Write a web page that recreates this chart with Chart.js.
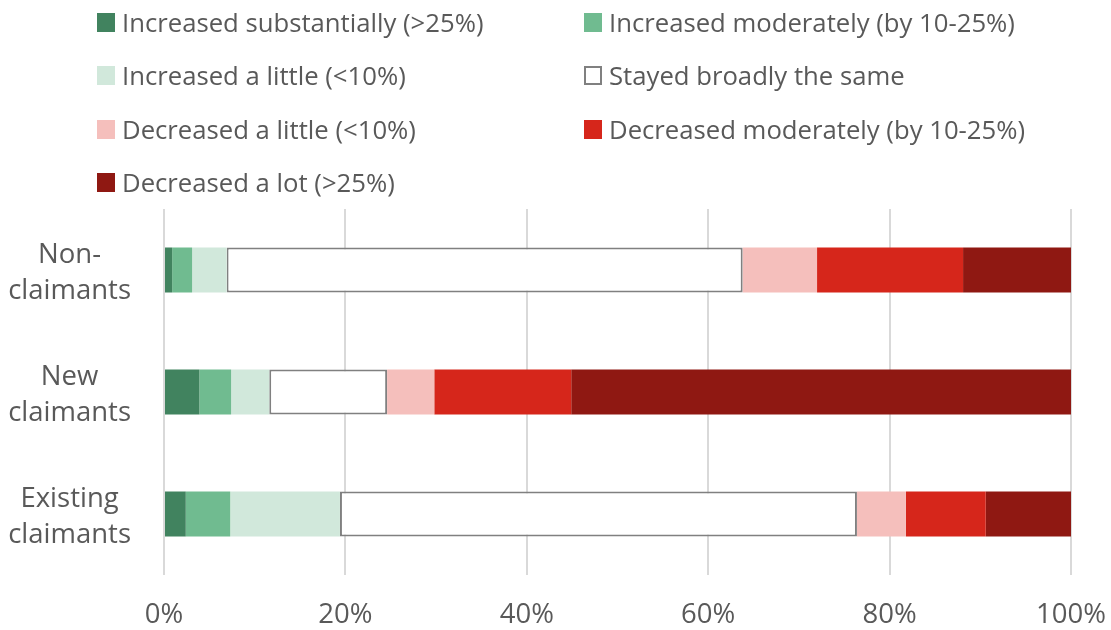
<!DOCTYPE html>
<html>
<head>
<meta charset="utf-8">
<script src="https://cdn.jsdelivr.net/npm/chart.js@4.4.1/dist/chart.umd.min.js"></script>
<style>
  html, body { margin: 0; padding: 0; background: #ffffff; }
  #wrap { position: relative; width: 1111px; height: 630px; }
  #chart { position: absolute; left: 0; top: 0; }
  #legend { position: absolute; left: 0; top: 0; width: 1111px; height: 200px;
            font-family: "Open Sans", sans-serif; font-size: 25.7px; color: #595959; }
  .item { position: absolute; display: flex; align-items: center; height: 30px; white-space: nowrap; }
  .box { width: 18px; height: 19px; margin-right: 7px; box-sizing: border-box; }
</style>
</head>
<body>
<div id="wrap">
  <canvas id="chart" width="1111" height="630"></canvas>
  <div id="legend"></div>
</div>
<script>
// Respondent groups (top to bottom)
const categories = [["Non-", "claimants"], ["New", "claimants"], ["Existing", "claimants"]];

// Share of each group (%) by change in income
const increasedSubstantially = [0.9, 3.9, 2.4];
const increasedModerately    = [2.2, 3.5, 4.9];
const increasedLittle        = [3.8, 4.2, 12.1];
const stayedSame             = [56.9, 13.0, 57.0];
const decreasedLittle        = [8.2, 5.2, 5.4];
const decreasedModerately    = [16.1, 15.1, 8.8];
const decreasedLot           = [11.9, 55.1, 9.4];

const seriesLabels = [
  "Increased substantially (>25%)",
  "Increased moderately (by 10-25%)",
  "Increased a little (<10%)",
  "Stayed broadly the same",
  "Decreased a little (<10%)",
  "Decreased moderately (by 10-25%)",
  "Decreased a lot (>25%)"
];
const xTicks = [0, 20, 40, 60, 80, 100];

const fills   = ["#41835f", "#70bb90", "#d1e8db", "#ffffff", "#f5bfbc", "#d6261b", "#8f1812"];
const borders = [null, null, null, "#808080", null, null, null];
const seriesValues = [increasedSubstantially, increasedModerately, increasedLittle, stayedSame,
                      decreasedLittle, decreasedModerately, decreasedLot];

const datasets = seriesValues.map((vals, i) => ({
  label: seriesLabels[i],
  data: vals,
  backgroundColor: fills[i],
  borderColor: borders[i] || fills[i],
  borderWidth: borders[i] ? 2 : 0,
  borderSkipped: false,
  categoryPercentage: 1,
  barPercentage: 0.369
}));

// HTML legend in two columns
const legend = document.getElementById("legend");
const colX = [97, 584];
const rowY = [22, 75.5, 129, 182];
seriesLabels.forEach((lab, i) => {
  const el = document.createElement("div");
  el.className = "item";
  el.style.left = colX[i % 2] + "px";
  el.style.top = (rowY[Math.floor(i / 2)] - 15) + "px";
  const b = document.createElement("span");
  b.className = "box";
  b.style.background = fills[i];
  if (borders[i]) b.style.border = "2px solid " + borders[i];
  const t = document.createElement("span");
  t.textContent = lab;
  el.appendChild(b); el.appendChild(t);
  legend.appendChild(el);
});

new Chart(document.getElementById("chart"), {
  type: "bar",
  data: { labels: categories, datasets },
  options: {
    indexAxis: "y",
    responsive: false,
    animation: false,
    layout: { padding: { top: 209, right: 0, bottom: 0, left: 0 } },
    plugins: { legend: { display: false }, tooltip: { enabled: false } },
    scales: {
      x: {
        stacked: true,
        min: 0, max: 100,
        afterBuildTicks: (s) => { s.ticks = xTicks.map(v => ({ value: v })); },
        afterFit: (s) => { s.height = 55; s.paddingLeft = 0; s.paddingRight = 40; },
        ticks: {
          callback: (v) => v + "%",
          color: "#595959",
          padding: 24,
          font: { family: "Open Sans", size: 27.5 }
        },
        grid: { color: "#d9d9d9", lineWidth: 2, drawTicks: false },
        border: { display: false }
      },
      y: {
        stacked: true,
        afterFit: (s) => { s.width = 164; s.paddingTop = 0; s.paddingBottom = 0; },
        ticks: {
          color: "#595959",
          crossAlign: "center",
          padding: 33,
          labelOffset: 3,
          font: { family: "Open Sans", size: 27.5, lineHeight: 1.31 }
        },
        grid: { display: false, drawTicks: false },
        border: { display: false }
      }
    }
  }
});
</script>
</body>
</html>
